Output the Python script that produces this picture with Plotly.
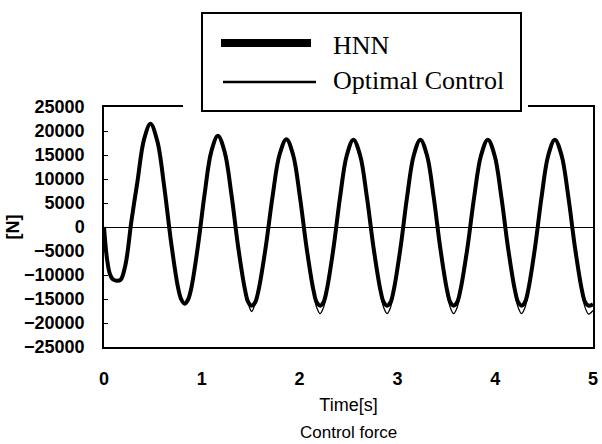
import plotly.graph_objects as go

# ---- data ----
time_s = [0, 0.01, 0.03, 0.06, 0.09, 0.13, 0.17, 0.22, 0.28, 0.34, 0.41, 0.475,
          0.545, 0.615, 0.685, 0.755, 0.79, 0.825,
          0.86, 0.893, 0.961, 1.029, 1.097, 1.165,
          1.234, 1.303, 1.372, 1.441, 1.4755, 1.51,
          1.5455, 1.581, 1.652, 1.723, 1.794, 1.865,
          1.934, 2.003, 2.072, 2.141, 2.1755, 2.21,
          2.244, 2.278, 2.346, 2.414, 2.482, 2.55,
          2.619, 2.688, 2.757, 2.826, 2.86, 2.895,
          2.929, 2.963, 3.031, 3.099, 3.167, 3.235,
          3.303, 3.371, 3.439, 3.507, 3.541, 3.575,
          3.61, 3.645, 3.715, 3.785, 3.855, 3.925,
          3.994, 4.063, 4.132, 4.201, 4.2355, 4.27,
          4.304, 4.338, 4.406, 4.474, 4.542, 4.61,
          4.679, 4.748, 4.817, 4.886, 4.92, 4.955, 5.0]

hnn_force = [0, -2500, -6500, -9800, -10900, -11200, -11000, -7800, 1200, 9200, 18300, 21500,
             17900, 8500, -3000, -12400, -15100, -16000,
             -15100, -12700, -3900, 6900, 15700, 19000,
             15600, 6800, -4200, -13000, -15700, -16400,
             -15700, -13100, -4400, 6300, 15000, 18300,
             15000, 6300, -4400, -13100, -15700, -16400,
             -15700, -13100, -4450, 6250, 14900, 18200,
             14900, 6250, -4450, -13100, -15700, -16400,
             -15700, -13100, -4450, 6250, 14900, 18200,
             14900, 6250, -4450, -13100, -15700, -16400,
             -15700, -13100, -4450, 6250, 14900, 18200,
             14900, 6250, -4450, -13100, -15700, -16400,
             -15700, -13100, -4450, 6250, 14900, 18200,
             14900, 6250, -4450, -13100, -15700, -16400, -16100]

optimal_force = [0, -2500, -6500, -9800, -10900, -11200, -11000, -7800, 1200, 9200, 18300, 21500,
                 17900, 8500, -3000, -12400, -15100, -16000,
                 -15100, -12700, -3900, 6900, 15700, 19000,
                 15600, 6800, -4200, -13400, -16000, -17600,
                 -16000, -13400, -4400, 6300, 15000, 18300,
                 15000, 6300, -4400, -13700, -16800, -18050,
                 -16800, -13700, -4450, 6250, 14900, 18200,
                 14900, 6250, -4450, -13700, -16800, -18050,
                 -16800, -13700, -4450, 6250, 14900, 18200,
                 14900, 6250, -4450, -13700, -16800, -18050,
                 -16800, -13700, -4450, 6250, 14900, 18200,
                 14900, 6250, -4450, -13700, -16800, -18050,
                 -16800, -13700, -4450, 6250, 14900, 18200,
                 14900, 6250, -4450, -13700, -16800, -18150, -17400]

x_ticks = [0, 1, 2, 3, 4, 5]
y_ticks = [-25000, -20000, -15000, -10000, -5000, 0, 5000, 10000, 15000, 20000, 25000]
y_tick_labels = ["\u221225000", "\u221220000", "\u221215000", "\u221210000", "\u22125000",
                 "0", "5000", "10000", "15000", "20000", "25000"]
series_names = ["HNN", "Optimal Control"]

SANS = "Liberation Sans, Arial, sans-serif"
SERIF = "Liberation Serif, Times New Roman, serif"

W, H = 602, 444
ML, MR, MT, MB = 104, 9, 107, 97
PW, PH = W - ML - MR, H - MT - MB


def px_x(px):
    return (px - ML) / PW


def px_y(py):
    return (H - MB - py) / PH


fig = go.Figure()
fig.add_trace(go.Scatter(x=time_s, y=optimal_force, mode="lines", name=series_names[1],
                         showlegend=False,
                         line=dict(color="black", width=1.3, shape="spline")))
fig.add_trace(go.Scatter(x=time_s, y=hnn_force, mode="lines", name=series_names[0],
                         showlegend=False,
                         line=dict(color="black", width=4, shape="spline")))

# legend box drawn as in the original (white box overlapping the frame top)
shapes = [
    dict(type="rect", xref="paper", yref="paper", x0=px_x(183), x1=px_x(528),
         y0=px_y(110), y1=px_y(104), fillcolor="white", line=dict(width=0), layer="above"),
    dict(type="rect", xref="paper", yref="paper", x0=px_x(202), x1=px_x(521),
         y0=px_y(111), y1=px_y(13), fillcolor="white",
         line=dict(color="black", width=2), layer="above"),
    dict(type="line", xref="paper", yref="paper", x0=px_x(221), x1=px_x(311),
         y0=px_y(43), y1=px_y(43), line=dict(color="black", width=8), layer="above"),
    dict(type="line", xref="paper", yref="paper", x0=px_x(223), x1=px_x(316),
         y0=px_y(82), y1=px_y(82), line=dict(color="black", width=2.5), layer="above"),
]
annotations = [
    dict(text=series_names[0], xref="paper", yref="paper", x=px_x(331), y=px_y(45),
         xanchor="left", yanchor="middle", showarrow=False,
         font=dict(family=SERIF, size=26, color="black")),
    dict(text=series_names[1], xref="paper", yref="paper", x=px_x(331), y=px_y(81),
         xanchor="left", yanchor="middle", showarrow=False,
         font=dict(family=SERIF, size=26, color="black")),
    dict(text="Control force", xref="paper", yref="paper", x=0.5, y=px_y(432),
         xanchor="center", yanchor="middle", showarrow=False,
         font=dict(family=SANS, size=17, color="black")),
]

fig.update_layout(
    width=W, height=H,
    margin=dict(l=ML, r=MR, t=MT, b=MB),
    paper_bgcolor="white", plot_bgcolor="white",
    font=dict(family=SANS, color="black"),
    showlegend=False,
    xaxis=dict(range=[0, 5], tickvals=x_ticks, ticks="", showline=True, mirror=True,
               linecolor="black", linewidth=1.5, showgrid=False, zeroline=False,
               automargin=False,
               tickfont=dict(family=SANS, size=18, weight="bold", color="black"),
               ticklabelstandoff=15,
               title=dict(text="Time[s]", font=dict(family=SANS, size=18, color="black"),
                          standoff=10)),
    xaxis2=dict(overlaying="x", anchor="free", position=0.5, range=[0, 5],
                tickvals=[1, 2, 3, 4], ticks="outside", side="top", ticklen=4,
                tickwidth=1, tickcolor="black", showticklabels=False, showline=False,
                showgrid=False, zeroline=False, automargin=False),
    yaxis=dict(range=[-25000, 25000], tickvals=y_ticks, ticktext=y_tick_labels,
               ticks="inside", ticklen=4,
               tickwidth=1.2, tickcolor="black", showline=True, mirror=True,
               linecolor="black", linewidth=1.5, showgrid=False,
               zeroline=True, zerolinecolor="black", zerolinewidth=1.3,
               automargin=False,
               tickfont=dict(family=SANS, size=18, weight="bold", color="black"),
               ticklabelstandoff=14,
               title=dict(text="[N]", font=dict(family=SANS, size=18, weight="bold",
                                                 color="black"), standoff=0)),
    shapes=shapes,
    annotations=annotations,
)

fig.write_html("out.html", config={"displayModeBar": False},
               post_script="document.body.style.margin='0px';"
                           "document.body.style.overflow='hidden';")
